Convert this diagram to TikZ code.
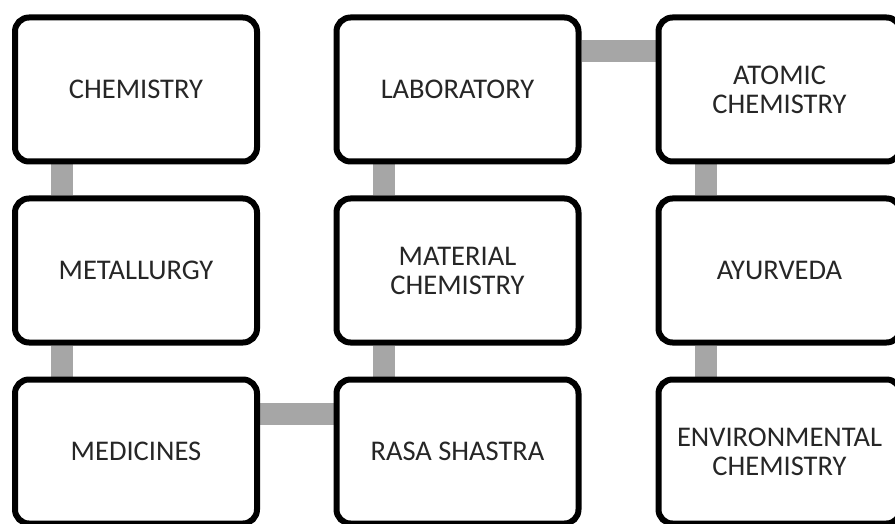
\documentclass[tikz,border=0pt]{standalone}
\usepackage{fontspec}
\setmainfont{Carlito}
\usetikzlibrary{backgrounds}
\definecolor{linkgray}{HTML}{A6A6A6}
\definecolor{txt}{HTML}{262626}
\tikzset{
  topic/.style={draw=black, line width=6pt, fill=white, rounded corners=14pt,
    minimum width=242pt, minimum height=144pt, inner sep=0pt,
    align=center, text=txt, font=\fontsize{28.5}{29}\selectfont},
  link/.style={draw=linkgray, line width=22pt}
}
\begin{document}
\begin{tikzpicture}[x=1pt,y=-1pt]
\clip (0,0) rectangle (895,524);
\node[topic] (chem) at (136,89.5) {CHEMISTRY};
\node[topic] (metal) at (136,270.5) {METALLURGY};
\node[topic] (med) at (136,451.5) {MEDICINES};
\node[topic] (lab) at (457.5,89.5) {LABORATORY};
\node[topic] (mat) at (457.5,270.5) {MATERIAL\\CHEMISTRY};
\node[topic] (rasa) at (457.5,451.5) {RASA SHASTRA};
\node[topic] (atom) at (779.5,89.5) {ATOMIC\\CHEMISTRY};
\node[topic] (ayur) at (779.5,270.5) {AYURVEDA};
\node[topic] (env) at (779.5,451.5) {ENVIRONMENTAL\\CHEMISTRY};
\begin{scope}[on background layer]
\draw[link] ([xshift=-74pt]chem.south) -- ([xshift=-74pt]metal.north);
\draw[link] ([xshift=-74pt]metal.south) -- ([xshift=-74pt]med.north);
\draw[link] ([yshift=38pt]med.east) -- ([yshift=38pt]rasa.west);
\draw[link] ([xshift=-73.5pt]rasa.north) -- ([xshift=-73.5pt]mat.south);
\draw[link] ([xshift=-73.5pt]mat.north) -- ([xshift=-73.5pt]lab.south);
\draw[link] ([yshift=38.5pt]lab.east) -- ([yshift=38.5pt]atom.west);
\draw[link] ([xshift=-73.5pt]atom.south) -- ([xshift=-73.5pt]ayur.north);
\draw[link] ([xshift=-73.5pt]ayur.south) -- ([xshift=-73.5pt]env.north);
\end{scope}
\end{tikzpicture}
\end{document}
